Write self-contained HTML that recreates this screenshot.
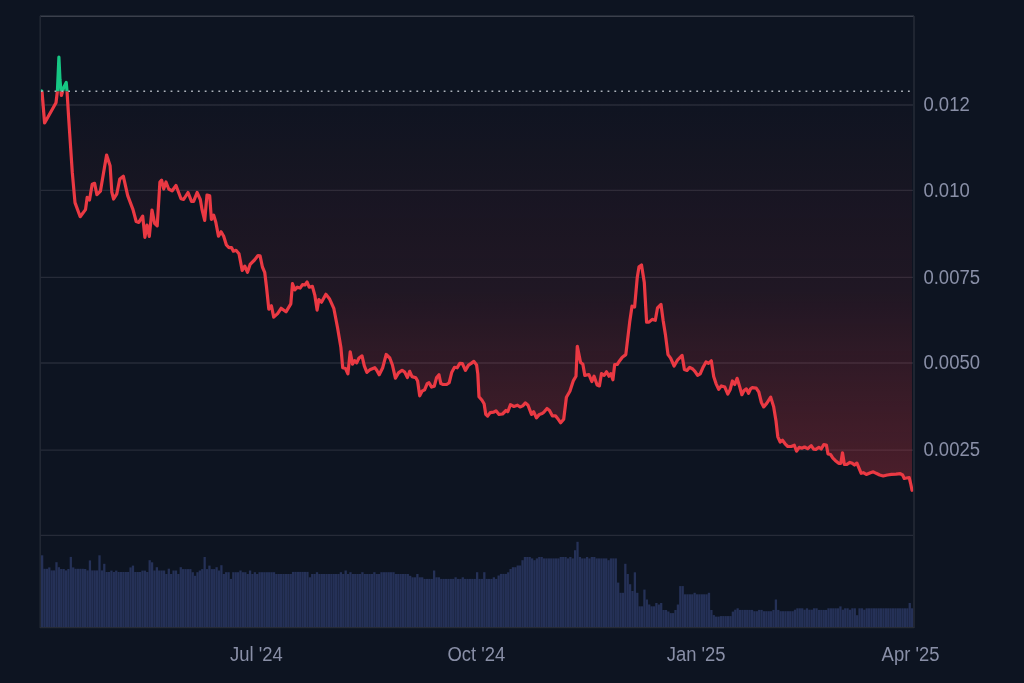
<!DOCTYPE html>
<html><head><meta charset="utf-8"><title>Chart</title>
<style>
html,body{margin:0;padding:0;background:#0d1421;width:1024px;height:683px;overflow:hidden}
svg{display:block;will-change:transform}
text{font-family:"Liberation Sans",sans-serif;font-size:19px;fill:#898fa7}
</style></head><body>
<svg width="1024" height="683" viewBox="0 0 1024 683">
<defs>
<linearGradient id="rg" x1="0" y1="91.3" x2="0" y2="536" gradientUnits="userSpaceOnUse">
<stop offset="0" stop-color="#ea3943" stop-opacity="0.01"/>
<stop offset="0.45" stop-color="#ea3943" stop-opacity="0.09"/>
<stop offset="1" stop-color="#ea3943" stop-opacity="0.34"/>
</linearGradient>
<linearGradient id="gg" x1="0" y1="16" x2="0" y2="91.3" gradientUnits="userSpaceOnUse">
<stop offset="0" stop-color="#16c784" stop-opacity="0.3"/>
<stop offset="1" stop-color="#16c784" stop-opacity="0.05"/>
</linearGradient>
<clipPath id="ab"><rect x="0" y="0" width="1024" height="91.3"/></clipPath>
<clipPath id="be"><rect x="0" y="91.3" width="1024" height="600"/></clipPath>
</defs>
<g stroke="#262b38" stroke-width="1.3"><line x1="40" x2="913" y1="450.1" y2="450.1"/><line x1="40" x2="913" y1="363.0" y2="363.0"/><line x1="40" x2="913" y1="277.4" y2="277.4"/><line x1="40" x2="913" y1="190.4" y2="190.4"/><line x1="40" x2="913" y1="105.0" y2="105.0"/><line x1="40" x2="913" y1="535.3" y2="535.3"/></g>
<g fill="#253157"><rect x="41.00" y="555.3" width="2.27" height="71.7"/><rect x="43.39" y="568.8" width="2.27" height="58.2"/><rect x="45.78" y="568.8" width="2.27" height="58.2"/><rect x="48.17" y="567.4" width="2.27" height="59.6"/><rect x="50.56" y="570.4" width="2.27" height="56.6"/><rect x="52.95" y="570.4" width="2.27" height="56.6"/><rect x="55.34" y="562.2" width="2.27" height="64.8"/><rect x="57.73" y="567.2" width="2.27" height="59.8"/><rect x="60.12" y="569.0" width="2.27" height="58.0"/><rect x="62.51" y="569.0" width="2.27" height="58.0"/><rect x="64.90" y="570.4" width="2.27" height="56.6"/><rect x="67.29" y="569.0" width="2.27" height="58.0"/><rect x="69.68" y="556.9" width="2.27" height="70.1"/><rect x="72.07" y="567.4" width="2.27" height="59.6"/><rect x="74.46" y="568.8" width="2.27" height="58.2"/><rect x="76.85" y="568.8" width="2.27" height="58.2"/><rect x="79.24" y="568.8" width="2.27" height="58.2"/><rect x="81.63" y="568.8" width="2.27" height="58.2"/><rect x="84.02" y="569.0" width="2.27" height="58.0"/><rect x="86.41" y="570.4" width="2.27" height="56.6"/><rect x="88.80" y="560.4" width="2.27" height="66.6"/><rect x="91.19" y="570.4" width="2.27" height="56.6"/><rect x="93.58" y="570.4" width="2.27" height="56.6"/><rect x="95.97" y="570.4" width="2.27" height="56.6"/><rect x="98.36" y="555.3" width="2.27" height="71.7"/><rect x="100.75" y="570.4" width="2.27" height="56.6"/><rect x="103.14" y="563.8" width="2.27" height="63.2"/><rect x="105.53" y="572.0" width="2.27" height="55.0"/><rect x="107.92" y="572.0" width="2.27" height="55.0"/><rect x="110.31" y="570.6" width="2.27" height="56.4"/><rect x="112.70" y="572.0" width="2.27" height="55.0"/><rect x="115.09" y="570.6" width="2.27" height="56.4"/><rect x="117.48" y="572.0" width="2.27" height="55.0"/><rect x="119.87" y="572.0" width="2.27" height="55.0"/><rect x="122.26" y="572.0" width="2.27" height="55.0"/><rect x="124.65" y="572.0" width="2.27" height="55.0"/><rect x="127.04" y="572.0" width="2.27" height="55.0"/><rect x="129.44" y="567.4" width="2.27" height="59.6"/><rect x="131.83" y="565.6" width="2.27" height="61.4"/><rect x="134.22" y="572.0" width="2.27" height="55.0"/><rect x="136.61" y="572.0" width="2.27" height="55.0"/><rect x="139.00" y="572.0" width="2.27" height="55.0"/><rect x="141.39" y="570.6" width="2.27" height="56.4"/><rect x="143.78" y="570.6" width="2.27" height="56.4"/><rect x="146.17" y="572.0" width="2.27" height="55.0"/><rect x="148.56" y="560.2" width="2.27" height="66.8"/><rect x="150.95" y="562.3" width="2.27" height="64.7"/><rect x="153.34" y="570.5" width="2.27" height="56.5"/><rect x="155.73" y="567.2" width="2.27" height="59.8"/><rect x="158.12" y="570.5" width="2.27" height="56.5"/><rect x="160.51" y="570.5" width="2.27" height="56.5"/><rect x="162.90" y="570.5" width="2.27" height="56.5"/><rect x="165.29" y="574.0" width="2.27" height="53.0"/><rect x="167.68" y="568.7" width="2.27" height="58.3"/><rect x="170.07" y="574.0" width="2.27" height="53.0"/><rect x="172.46" y="570.5" width="2.27" height="56.5"/><rect x="174.85" y="570.5" width="2.27" height="56.5"/><rect x="177.24" y="574.0" width="2.27" height="53.0"/><rect x="179.63" y="567.2" width="2.27" height="59.8"/><rect x="182.02" y="569.1" width="2.27" height="57.9"/><rect x="184.41" y="569.1" width="2.27" height="57.9"/><rect x="186.80" y="569.1" width="2.27" height="57.9"/><rect x="189.19" y="569.1" width="2.27" height="57.9"/><rect x="191.58" y="572.2" width="2.27" height="54.8"/><rect x="193.97" y="575.8" width="2.27" height="51.2"/><rect x="196.36" y="572.2" width="2.27" height="54.8"/><rect x="198.75" y="570.5" width="2.27" height="56.5"/><rect x="201.14" y="569.1" width="2.27" height="57.9"/><rect x="203.53" y="557.0" width="2.27" height="70.0"/><rect x="205.92" y="569.1" width="2.27" height="57.9"/><rect x="208.31" y="565.6" width="2.27" height="61.4"/><rect x="210.70" y="569.1" width="2.27" height="57.9"/><rect x="213.09" y="569.1" width="2.27" height="57.9"/><rect x="215.48" y="567.2" width="2.27" height="59.8"/><rect x="217.87" y="570.5" width="2.27" height="56.5"/><rect x="220.26" y="565.2" width="2.27" height="61.8"/><rect x="222.65" y="574.0" width="2.27" height="53.0"/><rect x="225.04" y="572.2" width="2.27" height="54.8"/><rect x="227.43" y="572.2" width="2.27" height="54.8"/><rect x="229.82" y="578.9" width="2.27" height="48.1"/><rect x="232.21" y="572.2" width="2.27" height="54.8"/><rect x="234.60" y="572.2" width="2.27" height="54.8"/><rect x="236.99" y="572.2" width="2.27" height="54.8"/><rect x="239.38" y="570.5" width="2.27" height="56.5"/><rect x="241.77" y="572.2" width="2.27" height="54.8"/><rect x="244.16" y="572.2" width="2.27" height="54.8"/><rect x="246.55" y="574.0" width="2.27" height="53.0"/><rect x="248.94" y="570.5" width="2.27" height="56.5"/><rect x="251.33" y="574.0" width="2.27" height="53.0"/><rect x="253.72" y="572.2" width="2.27" height="54.8"/><rect x="256.11" y="574.0" width="2.27" height="53.0"/><rect x="258.50" y="572.2" width="2.27" height="54.8"/><rect x="260.89" y="572.2" width="2.27" height="54.8"/><rect x="263.28" y="572.2" width="2.27" height="54.8"/><rect x="265.67" y="572.2" width="2.27" height="54.8"/><rect x="268.06" y="572.2" width="2.27" height="54.8"/><rect x="270.45" y="572.2" width="2.27" height="54.8"/><rect x="272.84" y="572.2" width="2.27" height="54.8"/><rect x="275.23" y="574.0" width="2.27" height="53.0"/><rect x="277.62" y="574.0" width="2.27" height="53.0"/><rect x="280.01" y="574.0" width="2.27" height="53.0"/><rect x="282.40" y="574.0" width="2.27" height="53.0"/><rect x="284.79" y="574.0" width="2.27" height="53.0"/><rect x="287.18" y="574.0" width="2.27" height="53.0"/><rect x="289.57" y="574.0" width="2.27" height="53.0"/><rect x="291.96" y="571.9" width="2.27" height="55.1"/><rect x="294.35" y="571.9" width="2.27" height="55.1"/><rect x="296.74" y="571.9" width="2.27" height="55.1"/><rect x="299.13" y="571.9" width="2.27" height="55.1"/><rect x="301.52" y="571.9" width="2.27" height="55.1"/><rect x="303.92" y="571.9" width="2.27" height="55.1"/><rect x="306.31" y="571.9" width="2.27" height="55.1"/><rect x="308.70" y="577.3" width="2.27" height="49.7"/><rect x="311.09" y="574.0" width="2.27" height="53.0"/><rect x="313.48" y="574.0" width="2.27" height="53.0"/><rect x="315.87" y="572.2" width="2.27" height="54.8"/><rect x="318.26" y="574.0" width="2.27" height="53.0"/><rect x="320.65" y="574.0" width="2.27" height="53.0"/><rect x="323.04" y="574.0" width="2.27" height="53.0"/><rect x="325.43" y="574.0" width="2.27" height="53.0"/><rect x="327.82" y="574.0" width="2.27" height="53.0"/><rect x="330.21" y="574.0" width="2.27" height="53.0"/><rect x="332.60" y="574.0" width="2.27" height="53.0"/><rect x="334.99" y="574.0" width="2.27" height="53.0"/><rect x="337.38" y="574.0" width="2.27" height="53.0"/><rect x="339.77" y="572.2" width="2.27" height="54.8"/><rect x="342.16" y="574.0" width="2.27" height="53.0"/><rect x="344.55" y="570.5" width="2.27" height="56.5"/><rect x="346.94" y="574.0" width="2.27" height="53.0"/><rect x="349.33" y="572.2" width="2.27" height="54.8"/><rect x="351.72" y="574.0" width="2.27" height="53.0"/><rect x="354.11" y="574.0" width="2.27" height="53.0"/><rect x="356.50" y="574.0" width="2.27" height="53.0"/><rect x="358.89" y="574.0" width="2.27" height="53.0"/><rect x="361.28" y="572.2" width="2.27" height="54.8"/><rect x="363.67" y="574.0" width="2.27" height="53.0"/><rect x="366.06" y="574.0" width="2.27" height="53.0"/><rect x="368.45" y="574.0" width="2.27" height="53.0"/><rect x="370.84" y="574.0" width="2.27" height="53.0"/><rect x="373.23" y="572.2" width="2.27" height="54.8"/><rect x="375.62" y="574.0" width="2.27" height="53.0"/><rect x="378.01" y="574.0" width="2.27" height="53.0"/><rect x="380.40" y="572.2" width="2.27" height="54.8"/><rect x="382.79" y="572.2" width="2.27" height="54.8"/><rect x="385.18" y="572.2" width="2.27" height="54.8"/><rect x="387.57" y="572.2" width="2.27" height="54.8"/><rect x="389.96" y="572.2" width="2.27" height="54.8"/><rect x="392.35" y="572.2" width="2.27" height="54.8"/><rect x="394.74" y="574.0" width="2.27" height="53.0"/><rect x="397.13" y="574.0" width="2.27" height="53.0"/><rect x="399.52" y="574.0" width="2.27" height="53.0"/><rect x="401.91" y="574.0" width="2.27" height="53.0"/><rect x="404.30" y="574.0" width="2.27" height="53.0"/><rect x="406.69" y="574.0" width="2.27" height="53.0"/><rect x="409.08" y="575.8" width="2.27" height="51.2"/><rect x="411.47" y="577.3" width="2.27" height="49.7"/><rect x="413.86" y="577.3" width="2.27" height="49.7"/><rect x="416.25" y="574.0" width="2.27" height="53.0"/><rect x="418.64" y="577.3" width="2.27" height="49.7"/><rect x="421.03" y="577.3" width="2.27" height="49.7"/><rect x="423.42" y="578.9" width="2.27" height="48.1"/><rect x="425.81" y="578.9" width="2.27" height="48.1"/><rect x="428.20" y="578.9" width="2.27" height="48.1"/><rect x="430.59" y="578.9" width="2.27" height="48.1"/><rect x="432.98" y="570.5" width="2.27" height="56.5"/><rect x="435.37" y="577.3" width="2.27" height="49.7"/><rect x="437.76" y="577.3" width="2.27" height="49.7"/><rect x="440.15" y="578.9" width="2.27" height="48.1"/><rect x="442.54" y="578.9" width="2.27" height="48.1"/><rect x="444.93" y="578.9" width="2.27" height="48.1"/><rect x="447.32" y="578.9" width="2.27" height="48.1"/><rect x="449.71" y="578.9" width="2.27" height="48.1"/><rect x="452.10" y="578.9" width="2.27" height="48.1"/><rect x="454.49" y="577.3" width="2.27" height="49.7"/><rect x="456.88" y="578.9" width="2.27" height="48.1"/><rect x="459.27" y="578.9" width="2.27" height="48.1"/><rect x="461.66" y="577.3" width="2.27" height="49.7"/><rect x="464.05" y="578.9" width="2.27" height="48.1"/><rect x="466.44" y="578.9" width="2.27" height="48.1"/><rect x="468.83" y="578.9" width="2.27" height="48.1"/><rect x="471.22" y="578.9" width="2.27" height="48.1"/><rect x="473.61" y="578.9" width="2.27" height="48.1"/><rect x="476.00" y="572.2" width="2.27" height="54.8"/><rect x="478.40" y="578.9" width="2.27" height="48.1"/><rect x="480.79" y="578.9" width="2.27" height="48.1"/><rect x="483.18" y="572.2" width="2.27" height="54.8"/><rect x="485.57" y="578.9" width="2.27" height="48.1"/><rect x="487.96" y="578.9" width="2.27" height="48.1"/><rect x="490.35" y="578.9" width="2.27" height="48.1"/><rect x="492.74" y="577.3" width="2.27" height="49.7"/><rect x="495.13" y="578.9" width="2.27" height="48.1"/><rect x="497.52" y="575.5" width="2.27" height="51.5"/><rect x="499.91" y="573.9" width="2.27" height="53.1"/><rect x="502.30" y="573.9" width="2.27" height="53.1"/><rect x="504.69" y="573.9" width="2.27" height="53.1"/><rect x="507.08" y="572.3" width="2.27" height="54.7"/><rect x="509.47" y="569.0" width="2.27" height="58.0"/><rect x="511.86" y="567.2" width="2.27" height="59.8"/><rect x="514.25" y="567.2" width="2.27" height="59.8"/><rect x="516.64" y="565.5" width="2.27" height="61.5"/><rect x="519.03" y="565.5" width="2.27" height="61.5"/><rect x="521.42" y="560.2" width="2.27" height="66.8"/><rect x="523.81" y="557.0" width="2.27" height="70.0"/><rect x="526.20" y="557.0" width="2.27" height="70.0"/><rect x="528.59" y="557.0" width="2.27" height="70.0"/><rect x="530.98" y="558.4" width="2.27" height="68.6"/><rect x="533.37" y="560.2" width="2.27" height="66.8"/><rect x="535.76" y="558.4" width="2.27" height="68.6"/><rect x="538.15" y="557.0" width="2.27" height="70.0"/><rect x="540.54" y="557.0" width="2.27" height="70.0"/><rect x="542.93" y="558.4" width="2.27" height="68.6"/><rect x="545.32" y="558.4" width="2.27" height="68.6"/><rect x="547.71" y="558.4" width="2.27" height="68.6"/><rect x="550.10" y="558.4" width="2.27" height="68.6"/><rect x="552.49" y="558.4" width="2.27" height="68.6"/><rect x="554.88" y="558.4" width="2.27" height="68.6"/><rect x="557.27" y="558.4" width="2.27" height="68.6"/><rect x="559.66" y="557.0" width="2.27" height="70.0"/><rect x="562.05" y="557.0" width="2.27" height="70.0"/><rect x="564.44" y="557.0" width="2.27" height="70.0"/><rect x="566.83" y="558.4" width="2.27" height="68.6"/><rect x="569.22" y="557.0" width="2.27" height="70.0"/><rect x="571.61" y="558.4" width="2.27" height="68.6"/><rect x="574.00" y="550.2" width="2.27" height="76.8"/><rect x="576.39" y="541.8" width="2.27" height="85.2"/><rect x="578.78" y="557.0" width="2.27" height="70.0"/><rect x="581.17" y="558.4" width="2.27" height="68.6"/><rect x="583.56" y="558.4" width="2.27" height="68.6"/><rect x="585.95" y="557.0" width="2.27" height="70.0"/><rect x="588.34" y="558.4" width="2.27" height="68.6"/><rect x="590.73" y="557.0" width="2.27" height="70.0"/><rect x="593.12" y="557.0" width="2.27" height="70.0"/><rect x="595.51" y="558.4" width="2.27" height="68.6"/><rect x="597.90" y="558.4" width="2.27" height="68.6"/><rect x="600.29" y="558.4" width="2.27" height="68.6"/><rect x="602.68" y="558.4" width="2.27" height="68.6"/><rect x="605.07" y="558.4" width="2.27" height="68.6"/><rect x="607.46" y="560.2" width="2.27" height="66.8"/><rect x="609.85" y="558.4" width="2.27" height="68.6"/><rect x="612.24" y="558.4" width="2.27" height="68.6"/><rect x="614.63" y="558.4" width="2.27" height="68.6"/><rect x="617.02" y="582.6" width="2.27" height="44.4"/><rect x="619.41" y="592.8" width="2.27" height="34.2"/><rect x="621.80" y="592.8" width="2.27" height="34.2"/><rect x="624.19" y="563.8" width="2.27" height="63.2"/><rect x="626.58" y="574.0" width="2.27" height="53.0"/><rect x="628.97" y="584.2" width="2.27" height="42.8"/><rect x="631.36" y="591.0" width="2.27" height="36.0"/><rect x="633.75" y="572.3" width="2.27" height="54.7"/><rect x="636.14" y="592.8" width="2.27" height="34.2"/><rect x="638.53" y="606.3" width="2.27" height="20.7"/><rect x="640.92" y="606.3" width="2.27" height="20.7"/><rect x="643.31" y="589.6" width="2.27" height="37.4"/><rect x="645.70" y="599.5" width="2.27" height="27.5"/><rect x="648.09" y="604.5" width="2.27" height="22.5"/><rect x="650.48" y="606.3" width="2.27" height="20.7"/><rect x="652.88" y="606.3" width="2.27" height="20.7"/><rect x="655.27" y="603.0" width="2.27" height="24.0"/><rect x="657.66" y="604.5" width="2.27" height="22.5"/><rect x="660.05" y="603.0" width="2.27" height="24.0"/><rect x="662.44" y="610.0" width="2.27" height="17.0"/><rect x="664.83" y="610.0" width="2.27" height="17.0"/><rect x="667.22" y="611.5" width="2.27" height="15.5"/><rect x="669.61" y="613.1" width="2.27" height="13.9"/><rect x="672.00" y="613.1" width="2.27" height="13.9"/><rect x="674.39" y="610.0" width="2.27" height="17.0"/><rect x="676.78" y="604.5" width="2.27" height="22.5"/><rect x="679.17" y="586.1" width="2.27" height="40.9"/><rect x="681.56" y="586.1" width="2.27" height="40.9"/><rect x="683.95" y="594.3" width="2.27" height="32.7"/><rect x="686.34" y="594.3" width="2.27" height="32.7"/><rect x="688.73" y="594.3" width="2.27" height="32.7"/><rect x="691.12" y="594.3" width="2.27" height="32.7"/><rect x="693.51" y="592.8" width="2.27" height="34.2"/><rect x="695.90" y="594.3" width="2.27" height="32.7"/><rect x="698.29" y="594.3" width="2.27" height="32.7"/><rect x="700.68" y="594.3" width="2.27" height="32.7"/><rect x="703.07" y="594.3" width="2.27" height="32.7"/><rect x="705.46" y="594.3" width="2.27" height="32.7"/><rect x="707.85" y="592.8" width="2.27" height="34.2"/><rect x="710.24" y="610.0" width="2.27" height="17.0"/><rect x="712.63" y="615.1" width="2.27" height="11.9"/><rect x="715.02" y="616.6" width="2.27" height="10.4"/><rect x="717.41" y="616.6" width="2.27" height="10.4"/><rect x="719.80" y="616.1" width="2.27" height="10.9"/><rect x="722.19" y="616.1" width="2.27" height="10.9"/><rect x="724.58" y="616.1" width="2.27" height="10.9"/><rect x="726.97" y="616.1" width="2.27" height="10.9"/><rect x="729.36" y="616.1" width="2.27" height="10.9"/><rect x="731.75" y="611.6" width="2.27" height="15.4"/><rect x="734.14" y="609.7" width="2.27" height="17.3"/><rect x="736.53" y="608.3" width="2.27" height="18.7"/><rect x="738.92" y="609.9" width="2.27" height="17.1"/><rect x="741.31" y="609.9" width="2.27" height="17.1"/><rect x="743.70" y="609.9" width="2.27" height="17.1"/><rect x="746.09" y="609.9" width="2.27" height="17.1"/><rect x="748.48" y="609.9" width="2.27" height="17.1"/><rect x="750.87" y="609.9" width="2.27" height="17.1"/><rect x="753.26" y="611.2" width="2.27" height="15.8"/><rect x="755.65" y="611.2" width="2.27" height="15.8"/><rect x="758.04" y="609.9" width="2.27" height="17.1"/><rect x="760.43" y="609.9" width="2.27" height="17.1"/><rect x="762.82" y="611.2" width="2.27" height="15.8"/><rect x="765.21" y="611.2" width="2.27" height="15.8"/><rect x="767.60" y="611.2" width="2.27" height="15.8"/><rect x="769.99" y="611.2" width="2.27" height="15.8"/><rect x="772.38" y="609.9" width="2.27" height="17.1"/><rect x="774.77" y="599.5" width="2.27" height="27.5"/><rect x="777.16" y="609.9" width="2.27" height="17.1"/><rect x="779.55" y="611.2" width="2.27" height="15.8"/><rect x="781.94" y="611.2" width="2.27" height="15.8"/><rect x="784.33" y="611.2" width="2.27" height="15.8"/><rect x="786.72" y="611.2" width="2.27" height="15.8"/><rect x="789.11" y="611.2" width="2.27" height="15.8"/><rect x="791.50" y="611.2" width="2.27" height="15.8"/><rect x="793.89" y="609.7" width="2.27" height="17.3"/><rect x="796.28" y="608.3" width="2.27" height="18.7"/><rect x="798.67" y="608.3" width="2.27" height="18.7"/><rect x="801.06" y="608.3" width="2.27" height="18.7"/><rect x="803.45" y="609.7" width="2.27" height="17.3"/><rect x="805.84" y="608.3" width="2.27" height="18.7"/><rect x="808.23" y="609.7" width="2.27" height="17.3"/><rect x="810.62" y="609.7" width="2.27" height="17.3"/><rect x="813.01" y="608.3" width="2.27" height="18.7"/><rect x="815.40" y="608.3" width="2.27" height="18.7"/><rect x="817.79" y="609.9" width="2.27" height="17.1"/><rect x="820.18" y="609.9" width="2.27" height="17.1"/><rect x="822.57" y="609.9" width="2.27" height="17.1"/><rect x="824.96" y="609.9" width="2.27" height="17.1"/><rect x="827.36" y="608.3" width="2.27" height="18.7"/><rect x="829.75" y="608.3" width="2.27" height="18.7"/><rect x="832.14" y="608.3" width="2.27" height="18.7"/><rect x="834.53" y="608.3" width="2.27" height="18.7"/><rect x="836.92" y="608.3" width="2.27" height="18.7"/><rect x="839.31" y="606.4" width="2.27" height="20.6"/><rect x="841.70" y="609.7" width="2.27" height="17.3"/><rect x="844.09" y="608.3" width="2.27" height="18.7"/><rect x="846.48" y="608.3" width="2.27" height="18.7"/><rect x="848.87" y="609.7" width="2.27" height="17.3"/><rect x="851.26" y="608.3" width="2.27" height="18.7"/><rect x="853.65" y="608.3" width="2.27" height="18.7"/><rect x="856.04" y="615.2" width="2.27" height="11.8"/><rect x="858.43" y="608.3" width="2.27" height="18.7"/><rect x="860.82" y="608.3" width="2.27" height="18.7"/><rect x="863.21" y="609.7" width="2.27" height="17.3"/><rect x="865.60" y="608.3" width="2.27" height="18.7"/><rect x="867.99" y="608.3" width="2.27" height="18.7"/><rect x="870.38" y="608.3" width="2.27" height="18.7"/><rect x="872.77" y="608.3" width="2.27" height="18.7"/><rect x="875.16" y="608.3" width="2.27" height="18.7"/><rect x="877.55" y="608.3" width="2.27" height="18.7"/><rect x="879.94" y="608.3" width="2.27" height="18.7"/><rect x="882.33" y="608.3" width="2.27" height="18.7"/><rect x="884.72" y="608.3" width="2.27" height="18.7"/><rect x="887.11" y="608.3" width="2.27" height="18.7"/><rect x="889.50" y="608.3" width="2.27" height="18.7"/><rect x="891.89" y="608.3" width="2.27" height="18.7"/><rect x="894.28" y="608.3" width="2.27" height="18.7"/><rect x="896.67" y="608.3" width="2.27" height="18.7"/><rect x="899.06" y="608.3" width="2.27" height="18.7"/><rect x="901.45" y="608.3" width="2.27" height="18.7"/><rect x="903.84" y="608.3" width="2.27" height="18.7"/><rect x="906.23" y="608.3" width="2.27" height="18.7"/><rect x="908.62" y="603.0" width="2.27" height="24.0"/><rect x="911.01" y="608.3" width="2.27" height="18.7"/></g>
<polygon points="41.5,91.0 42.0,91.5 44.6,123.0 56.0,102.7 57.4,91.0 58.9,57.0 60.0,80.0 61.4,95.5 63.5,88.0 66.2,82.5 67.0,91.0 68.8,120.0 72.3,172.7 75.0,202.6 80.2,216.7 85.5,209.6 87.2,197.3 89.5,200.0 92.2,184.2 94.6,183.3 96.9,194.7 100.4,191.2 106.6,155.1 110.1,165.7 111.8,192.0 113.6,199.0 116.8,193.8 119.8,178.9 123.3,176.2 127.7,195.6 133.0,209.6 136.2,221.5 138.8,222.4 142.7,216.2 144.9,237.3 147.0,225.0 149.3,236.4 152.0,210.0 154.6,223.3 157.2,225.9 159.9,182.0 161.6,180.2 163.7,189.0 166.0,182.0 168.7,189.0 172.2,190.8 176.0,185.5 181.0,198.7 183.6,199.5 188.0,192.5 191.5,201.3 193.6,201.3 197.1,192.5 200.3,199.5 202.1,209.9 204.7,220.4 207.0,195.0 209.7,195.8 211.4,219.5 213.7,215.1 215.8,222.2 218.5,236.2 221.1,231.8 223.7,236.2 226.4,245.0 229.0,247.7 231.6,247.7 233.4,251.2 236.0,250.3 239.0,253.8 242.2,270.5 244.8,266.1 247.5,272.3 250.1,264.4 254.5,260.0 258.0,255.6 260.1,255.9 262.4,267.0 264.7,272.3 266.5,287.0 268.8,309.2 271.4,305.7 273.7,317.1 277.6,313.6 281.1,308.3 286.0,311.8 290.8,303.9 292.5,283.7 294.8,289.9 297.3,287.2 300.1,288.1 302.5,284.6 305.0,285.0 307.1,282.0 309.2,287.2 312.4,286.4 314.8,295.1 317.1,310.1 318.9,299.5 321.5,302.2 325.9,294.3 329.4,298.7 333.8,308.3 337.6,328.0 340.9,347.5 342.7,367.7 345.5,368.5 347.9,373.8 350.2,351.8 352.5,364.1 354.6,360.6 356.7,362.9 359.0,358.0 362.0,355.9 364.3,365.9 366.9,372.4 370.4,369.4 374.8,367.7 376.6,370.0 379.2,374.7 382.7,367.7 386.2,354.5 389.8,358.0 392.4,365.0 395.4,378.2 398.5,372.9 402.1,370.3 404.7,372.1 407.4,377.5 409.7,371.3 412.0,376.6 415.8,377.8 417.6,381.0 419.7,395.9 422.0,391.2 424.6,389.8 427.2,383.6 429.0,382.7 431.6,387.1 434.3,386.2 436.6,377.5 439.0,374.8 440.8,383.6 443.1,384.5 446.6,384.5 449.2,382.7 451.8,372.2 454.5,367.3 457.1,367.8 459.8,363.4 462.4,363.7 465.4,370.4 468.5,365.1 471.2,363.4 473.9,361.4 476.6,365.0 477.8,373.9 479.0,396.8 482.0,400.3 484.1,403.8 485.8,414.4 487.6,416.1 490.2,412.6 493.7,412.2 496.0,410.8 499.0,414.4 502.5,414.0 506.0,410.5 507.8,411.7 510.4,404.7 513.9,406.5 517.5,405.2 520.1,407.0 522.7,405.9 525.4,402.9 528.0,405.2 531.5,414.4 533.6,411.7 536.4,417.9 539.4,414.4 542.1,413.5 543.8,412.2 547.0,408.5 549.5,410.5 552.3,415.8 555.5,415.8 557.6,418.4 560.7,422.8 563.7,419.3 566.4,397.3 569.9,391.2 573.4,380.6 576.0,376.2 577.3,346.4 580.6,362.6 582.8,364.0 584.8,375.4 588.9,374.5 591.8,381.5 594.1,376.2 597.1,385.0 599.4,385.9 601.5,373.6 604.2,375.4 606.5,371.8 609.0,376.2 610.8,373.6 612.9,379.8 614.7,364.5 617.2,364.5 619.7,360.7 622.3,357.2 625.8,354.6 627.6,339.6 629.7,322.1 632.0,306.2 634.6,307.1 637.2,278.1 639.0,266.8 641.5,265.0 644.3,282.5 646.6,322.1 649.0,322.1 652.2,319.4 655.3,320.3 657.5,308.0 661.0,304.5 663.1,320.3 665.4,334.4 668.0,354.6 670.6,358.1 674.1,366.0 677.7,359.8 682.1,355.4 684.4,369.5 687.0,370.4 689.7,367.3 692.7,369.0 694.9,371.3 697.6,375.3 700.2,373.9 702.8,367.8 706.0,362.0 708.5,363.4 711.3,360.8 713.7,376.6 716.0,383.6 718.7,389.4 721.3,385.9 724.8,387.1 727.8,394.1 730.1,389.8 732.4,381.0 734.8,384.5 737.1,378.3 739.8,387.1 741.9,394.7 744.1,390.6 746.4,388.9 748.5,393.3 750.5,389.0 752.1,387.6 756.2,388.1 758.8,392.0 761.4,402.5 763.7,406.9 766.7,403.4 770.7,397.2 773.7,406.9 776.0,421.0 777.8,436.8 780.2,442.1 782.5,440.3 785.1,443.8 787.8,446.5 791.3,446.5 794.3,445.2 796.6,451.2 799.2,447.3 801.8,448.2 804.5,447.0 807.6,448.7 811.2,445.6 813.6,449.1 815.9,449.4 818.9,447.3 821.2,449.0 823.8,444.7 826.4,445.0 828.0,454.0 830.5,454.5 832.9,458.1 835.2,460.4 838.7,463.3 840.8,463.3 842.5,452.8 844.4,464.5 846.9,464.3 849.9,462.4 852.2,463.3 854.5,465.1 856.9,463.1 859.2,468.6 861.2,473.3 863.3,472.7 866.3,474.4 870.4,472.7 873.3,471.8 876.2,473.3 879.7,475.0 883.2,476.0 887.3,475.0 891.4,474.4 896.1,474.1 900.2,473.6 902.6,475.0 904.3,478.5 906.6,478.0 909.2,477.6 910.7,483.8 912.0,490.3 912.0,91.3 41.5,91.3" fill="url(#rg)" clip-path="url(#be)"/>
<polygon points="41.5,91.0 42.0,91.5 44.6,123.0 56.0,102.7 57.4,91.0 58.9,57.0 60.0,80.0 61.4,95.5 63.5,88.0 66.2,82.5 67.0,91.0 68.8,120.0 72.3,172.7 75.0,202.6 80.2,216.7 85.5,209.6 87.2,197.3 89.5,200.0 92.2,184.2 94.6,183.3 96.9,194.7 100.4,191.2 106.6,155.1 110.1,165.7 111.8,192.0 113.6,199.0 116.8,193.8 119.8,178.9 123.3,176.2 127.7,195.6 133.0,209.6 136.2,221.5 138.8,222.4 142.7,216.2 144.9,237.3 147.0,225.0 149.3,236.4 152.0,210.0 154.6,223.3 157.2,225.9 159.9,182.0 161.6,180.2 163.7,189.0 166.0,182.0 168.7,189.0 172.2,190.8 176.0,185.5 181.0,198.7 183.6,199.5 188.0,192.5 191.5,201.3 193.6,201.3 197.1,192.5 200.3,199.5 202.1,209.9 204.7,220.4 207.0,195.0 209.7,195.8 211.4,219.5 213.7,215.1 215.8,222.2 218.5,236.2 221.1,231.8 223.7,236.2 226.4,245.0 229.0,247.7 231.6,247.7 233.4,251.2 236.0,250.3 239.0,253.8 242.2,270.5 244.8,266.1 247.5,272.3 250.1,264.4 254.5,260.0 258.0,255.6 260.1,255.9 262.4,267.0 264.7,272.3 266.5,287.0 268.8,309.2 271.4,305.7 273.7,317.1 277.6,313.6 281.1,308.3 286.0,311.8 290.8,303.9 292.5,283.7 294.8,289.9 297.3,287.2 300.1,288.1 302.5,284.6 305.0,285.0 307.1,282.0 309.2,287.2 312.4,286.4 314.8,295.1 317.1,310.1 318.9,299.5 321.5,302.2 325.9,294.3 329.4,298.7 333.8,308.3 337.6,328.0 340.9,347.5 342.7,367.7 345.5,368.5 347.9,373.8 350.2,351.8 352.5,364.1 354.6,360.6 356.7,362.9 359.0,358.0 362.0,355.9 364.3,365.9 366.9,372.4 370.4,369.4 374.8,367.7 376.6,370.0 379.2,374.7 382.7,367.7 386.2,354.5 389.8,358.0 392.4,365.0 395.4,378.2 398.5,372.9 402.1,370.3 404.7,372.1 407.4,377.5 409.7,371.3 412.0,376.6 415.8,377.8 417.6,381.0 419.7,395.9 422.0,391.2 424.6,389.8 427.2,383.6 429.0,382.7 431.6,387.1 434.3,386.2 436.6,377.5 439.0,374.8 440.8,383.6 443.1,384.5 446.6,384.5 449.2,382.7 451.8,372.2 454.5,367.3 457.1,367.8 459.8,363.4 462.4,363.7 465.4,370.4 468.5,365.1 471.2,363.4 473.9,361.4 476.6,365.0 477.8,373.9 479.0,396.8 482.0,400.3 484.1,403.8 485.8,414.4 487.6,416.1 490.2,412.6 493.7,412.2 496.0,410.8 499.0,414.4 502.5,414.0 506.0,410.5 507.8,411.7 510.4,404.7 513.9,406.5 517.5,405.2 520.1,407.0 522.7,405.9 525.4,402.9 528.0,405.2 531.5,414.4 533.6,411.7 536.4,417.9 539.4,414.4 542.1,413.5 543.8,412.2 547.0,408.5 549.5,410.5 552.3,415.8 555.5,415.8 557.6,418.4 560.7,422.8 563.7,419.3 566.4,397.3 569.9,391.2 573.4,380.6 576.0,376.2 577.3,346.4 580.6,362.6 582.8,364.0 584.8,375.4 588.9,374.5 591.8,381.5 594.1,376.2 597.1,385.0 599.4,385.9 601.5,373.6 604.2,375.4 606.5,371.8 609.0,376.2 610.8,373.6 612.9,379.8 614.7,364.5 617.2,364.5 619.7,360.7 622.3,357.2 625.8,354.6 627.6,339.6 629.7,322.1 632.0,306.2 634.6,307.1 637.2,278.1 639.0,266.8 641.5,265.0 644.3,282.5 646.6,322.1 649.0,322.1 652.2,319.4 655.3,320.3 657.5,308.0 661.0,304.5 663.1,320.3 665.4,334.4 668.0,354.6 670.6,358.1 674.1,366.0 677.7,359.8 682.1,355.4 684.4,369.5 687.0,370.4 689.7,367.3 692.7,369.0 694.9,371.3 697.6,375.3 700.2,373.9 702.8,367.8 706.0,362.0 708.5,363.4 711.3,360.8 713.7,376.6 716.0,383.6 718.7,389.4 721.3,385.9 724.8,387.1 727.8,394.1 730.1,389.8 732.4,381.0 734.8,384.5 737.1,378.3 739.8,387.1 741.9,394.7 744.1,390.6 746.4,388.9 748.5,393.3 750.5,389.0 752.1,387.6 756.2,388.1 758.8,392.0 761.4,402.5 763.7,406.9 766.7,403.4 770.7,397.2 773.7,406.9 776.0,421.0 777.8,436.8 780.2,442.1 782.5,440.3 785.1,443.8 787.8,446.5 791.3,446.5 794.3,445.2 796.6,451.2 799.2,447.3 801.8,448.2 804.5,447.0 807.6,448.7 811.2,445.6 813.6,449.1 815.9,449.4 818.9,447.3 821.2,449.0 823.8,444.7 826.4,445.0 828.0,454.0 830.5,454.5 832.9,458.1 835.2,460.4 838.7,463.3 840.8,463.3 842.5,452.8 844.4,464.5 846.9,464.3 849.9,462.4 852.2,463.3 854.5,465.1 856.9,463.1 859.2,468.6 861.2,473.3 863.3,472.7 866.3,474.4 870.4,472.7 873.3,471.8 876.2,473.3 879.7,475.0 883.2,476.0 887.3,475.0 891.4,474.4 896.1,474.1 900.2,473.6 902.6,475.0 904.3,478.5 906.6,478.0 909.2,477.6 910.7,483.8 912.0,490.3 912.0,91.3 41.5,91.3" fill="url(#gg)" clip-path="url(#ab)"/>
<g fill="none" stroke-width="3.2" stroke-linejoin="round" stroke-linecap="round">
<polyline points="41.5,91.0 42.0,91.5 44.6,123.0 56.0,102.7 57.4,91.0 58.9,57.0 60.0,80.0 61.4,95.5 63.5,88.0 66.2,82.5 67.0,91.0 68.8,120.0 72.3,172.7 75.0,202.6 80.2,216.7 85.5,209.6 87.2,197.3 89.5,200.0 92.2,184.2 94.6,183.3 96.9,194.7 100.4,191.2 106.6,155.1 110.1,165.7 111.8,192.0 113.6,199.0 116.8,193.8 119.8,178.9 123.3,176.2 127.7,195.6 133.0,209.6 136.2,221.5 138.8,222.4 142.7,216.2 144.9,237.3 147.0,225.0 149.3,236.4 152.0,210.0 154.6,223.3 157.2,225.9 159.9,182.0 161.6,180.2 163.7,189.0 166.0,182.0 168.7,189.0 172.2,190.8 176.0,185.5 181.0,198.7 183.6,199.5 188.0,192.5 191.5,201.3 193.6,201.3 197.1,192.5 200.3,199.5 202.1,209.9 204.7,220.4 207.0,195.0 209.7,195.8 211.4,219.5 213.7,215.1 215.8,222.2 218.5,236.2 221.1,231.8 223.7,236.2 226.4,245.0 229.0,247.7 231.6,247.7 233.4,251.2 236.0,250.3 239.0,253.8 242.2,270.5 244.8,266.1 247.5,272.3 250.1,264.4 254.5,260.0 258.0,255.6 260.1,255.9 262.4,267.0 264.7,272.3 266.5,287.0 268.8,309.2 271.4,305.7 273.7,317.1 277.6,313.6 281.1,308.3 286.0,311.8 290.8,303.9 292.5,283.7 294.8,289.9 297.3,287.2 300.1,288.1 302.5,284.6 305.0,285.0 307.1,282.0 309.2,287.2 312.4,286.4 314.8,295.1 317.1,310.1 318.9,299.5 321.5,302.2 325.9,294.3 329.4,298.7 333.8,308.3 337.6,328.0 340.9,347.5 342.7,367.7 345.5,368.5 347.9,373.8 350.2,351.8 352.5,364.1 354.6,360.6 356.7,362.9 359.0,358.0 362.0,355.9 364.3,365.9 366.9,372.4 370.4,369.4 374.8,367.7 376.6,370.0 379.2,374.7 382.7,367.7 386.2,354.5 389.8,358.0 392.4,365.0 395.4,378.2 398.5,372.9 402.1,370.3 404.7,372.1 407.4,377.5 409.7,371.3 412.0,376.6 415.8,377.8 417.6,381.0 419.7,395.9 422.0,391.2 424.6,389.8 427.2,383.6 429.0,382.7 431.6,387.1 434.3,386.2 436.6,377.5 439.0,374.8 440.8,383.6 443.1,384.5 446.6,384.5 449.2,382.7 451.8,372.2 454.5,367.3 457.1,367.8 459.8,363.4 462.4,363.7 465.4,370.4 468.5,365.1 471.2,363.4 473.9,361.4 476.6,365.0 477.8,373.9 479.0,396.8 482.0,400.3 484.1,403.8 485.8,414.4 487.6,416.1 490.2,412.6 493.7,412.2 496.0,410.8 499.0,414.4 502.5,414.0 506.0,410.5 507.8,411.7 510.4,404.7 513.9,406.5 517.5,405.2 520.1,407.0 522.7,405.9 525.4,402.9 528.0,405.2 531.5,414.4 533.6,411.7 536.4,417.9 539.4,414.4 542.1,413.5 543.8,412.2 547.0,408.5 549.5,410.5 552.3,415.8 555.5,415.8 557.6,418.4 560.7,422.8 563.7,419.3 566.4,397.3 569.9,391.2 573.4,380.6 576.0,376.2 577.3,346.4 580.6,362.6 582.8,364.0 584.8,375.4 588.9,374.5 591.8,381.5 594.1,376.2 597.1,385.0 599.4,385.9 601.5,373.6 604.2,375.4 606.5,371.8 609.0,376.2 610.8,373.6 612.9,379.8 614.7,364.5 617.2,364.5 619.7,360.7 622.3,357.2 625.8,354.6 627.6,339.6 629.7,322.1 632.0,306.2 634.6,307.1 637.2,278.1 639.0,266.8 641.5,265.0 644.3,282.5 646.6,322.1 649.0,322.1 652.2,319.4 655.3,320.3 657.5,308.0 661.0,304.5 663.1,320.3 665.4,334.4 668.0,354.6 670.6,358.1 674.1,366.0 677.7,359.8 682.1,355.4 684.4,369.5 687.0,370.4 689.7,367.3 692.7,369.0 694.9,371.3 697.6,375.3 700.2,373.9 702.8,367.8 706.0,362.0 708.5,363.4 711.3,360.8 713.7,376.6 716.0,383.6 718.7,389.4 721.3,385.9 724.8,387.1 727.8,394.1 730.1,389.8 732.4,381.0 734.8,384.5 737.1,378.3 739.8,387.1 741.9,394.7 744.1,390.6 746.4,388.9 748.5,393.3 750.5,389.0 752.1,387.6 756.2,388.1 758.8,392.0 761.4,402.5 763.7,406.9 766.7,403.4 770.7,397.2 773.7,406.9 776.0,421.0 777.8,436.8 780.2,442.1 782.5,440.3 785.1,443.8 787.8,446.5 791.3,446.5 794.3,445.2 796.6,451.2 799.2,447.3 801.8,448.2 804.5,447.0 807.6,448.7 811.2,445.6 813.6,449.1 815.9,449.4 818.9,447.3 821.2,449.0 823.8,444.7 826.4,445.0 828.0,454.0 830.5,454.5 832.9,458.1 835.2,460.4 838.7,463.3 840.8,463.3 842.5,452.8 844.4,464.5 846.9,464.3 849.9,462.4 852.2,463.3 854.5,465.1 856.9,463.1 859.2,468.6 861.2,473.3 863.3,472.7 866.3,474.4 870.4,472.7 873.3,471.8 876.2,473.3 879.7,475.0 883.2,476.0 887.3,475.0 891.4,474.4 896.1,474.1 900.2,473.6 902.6,475.0 904.3,478.5 906.6,478.0 909.2,477.6 910.7,483.8 912.0,490.3" stroke="#ea3943" clip-path="url(#be)"/>
<polyline points="41.5,91.0 42.0,91.5 44.6,123.0 56.0,102.7 57.4,91.0 58.9,57.0 60.0,80.0 61.4,95.5 63.5,88.0 66.2,82.5 67.0,91.0 68.8,120.0 72.3,172.7 75.0,202.6 80.2,216.7 85.5,209.6 87.2,197.3 89.5,200.0 92.2,184.2 94.6,183.3 96.9,194.7 100.4,191.2 106.6,155.1 110.1,165.7 111.8,192.0 113.6,199.0 116.8,193.8 119.8,178.9 123.3,176.2 127.7,195.6 133.0,209.6 136.2,221.5 138.8,222.4 142.7,216.2 144.9,237.3 147.0,225.0 149.3,236.4 152.0,210.0 154.6,223.3 157.2,225.9 159.9,182.0 161.6,180.2 163.7,189.0 166.0,182.0 168.7,189.0 172.2,190.8 176.0,185.5 181.0,198.7 183.6,199.5 188.0,192.5 191.5,201.3 193.6,201.3 197.1,192.5 200.3,199.5 202.1,209.9 204.7,220.4 207.0,195.0 209.7,195.8 211.4,219.5 213.7,215.1 215.8,222.2 218.5,236.2 221.1,231.8 223.7,236.2 226.4,245.0 229.0,247.7 231.6,247.7 233.4,251.2 236.0,250.3 239.0,253.8 242.2,270.5 244.8,266.1 247.5,272.3 250.1,264.4 254.5,260.0 258.0,255.6 260.1,255.9 262.4,267.0 264.7,272.3 266.5,287.0 268.8,309.2 271.4,305.7 273.7,317.1 277.6,313.6 281.1,308.3 286.0,311.8 290.8,303.9 292.5,283.7 294.8,289.9 297.3,287.2 300.1,288.1 302.5,284.6 305.0,285.0 307.1,282.0 309.2,287.2 312.4,286.4 314.8,295.1 317.1,310.1 318.9,299.5 321.5,302.2 325.9,294.3 329.4,298.7 333.8,308.3 337.6,328.0 340.9,347.5 342.7,367.7 345.5,368.5 347.9,373.8 350.2,351.8 352.5,364.1 354.6,360.6 356.7,362.9 359.0,358.0 362.0,355.9 364.3,365.9 366.9,372.4 370.4,369.4 374.8,367.7 376.6,370.0 379.2,374.7 382.7,367.7 386.2,354.5 389.8,358.0 392.4,365.0 395.4,378.2 398.5,372.9 402.1,370.3 404.7,372.1 407.4,377.5 409.7,371.3 412.0,376.6 415.8,377.8 417.6,381.0 419.7,395.9 422.0,391.2 424.6,389.8 427.2,383.6 429.0,382.7 431.6,387.1 434.3,386.2 436.6,377.5 439.0,374.8 440.8,383.6 443.1,384.5 446.6,384.5 449.2,382.7 451.8,372.2 454.5,367.3 457.1,367.8 459.8,363.4 462.4,363.7 465.4,370.4 468.5,365.1 471.2,363.4 473.9,361.4 476.6,365.0 477.8,373.9 479.0,396.8 482.0,400.3 484.1,403.8 485.8,414.4 487.6,416.1 490.2,412.6 493.7,412.2 496.0,410.8 499.0,414.4 502.5,414.0 506.0,410.5 507.8,411.7 510.4,404.7 513.9,406.5 517.5,405.2 520.1,407.0 522.7,405.9 525.4,402.9 528.0,405.2 531.5,414.4 533.6,411.7 536.4,417.9 539.4,414.4 542.1,413.5 543.8,412.2 547.0,408.5 549.5,410.5 552.3,415.8 555.5,415.8 557.6,418.4 560.7,422.8 563.7,419.3 566.4,397.3 569.9,391.2 573.4,380.6 576.0,376.2 577.3,346.4 580.6,362.6 582.8,364.0 584.8,375.4 588.9,374.5 591.8,381.5 594.1,376.2 597.1,385.0 599.4,385.9 601.5,373.6 604.2,375.4 606.5,371.8 609.0,376.2 610.8,373.6 612.9,379.8 614.7,364.5 617.2,364.5 619.7,360.7 622.3,357.2 625.8,354.6 627.6,339.6 629.7,322.1 632.0,306.2 634.6,307.1 637.2,278.1 639.0,266.8 641.5,265.0 644.3,282.5 646.6,322.1 649.0,322.1 652.2,319.4 655.3,320.3 657.5,308.0 661.0,304.5 663.1,320.3 665.4,334.4 668.0,354.6 670.6,358.1 674.1,366.0 677.7,359.8 682.1,355.4 684.4,369.5 687.0,370.4 689.7,367.3 692.7,369.0 694.9,371.3 697.6,375.3 700.2,373.9 702.8,367.8 706.0,362.0 708.5,363.4 711.3,360.8 713.7,376.6 716.0,383.6 718.7,389.4 721.3,385.9 724.8,387.1 727.8,394.1 730.1,389.8 732.4,381.0 734.8,384.5 737.1,378.3 739.8,387.1 741.9,394.7 744.1,390.6 746.4,388.9 748.5,393.3 750.5,389.0 752.1,387.6 756.2,388.1 758.8,392.0 761.4,402.5 763.7,406.9 766.7,403.4 770.7,397.2 773.7,406.9 776.0,421.0 777.8,436.8 780.2,442.1 782.5,440.3 785.1,443.8 787.8,446.5 791.3,446.5 794.3,445.2 796.6,451.2 799.2,447.3 801.8,448.2 804.5,447.0 807.6,448.7 811.2,445.6 813.6,449.1 815.9,449.4 818.9,447.3 821.2,449.0 823.8,444.7 826.4,445.0 828.0,454.0 830.5,454.5 832.9,458.1 835.2,460.4 838.7,463.3 840.8,463.3 842.5,452.8 844.4,464.5 846.9,464.3 849.9,462.4 852.2,463.3 854.5,465.1 856.9,463.1 859.2,468.6 861.2,473.3 863.3,472.7 866.3,474.4 870.4,472.7 873.3,471.8 876.2,473.3 879.7,475.0 883.2,476.0 887.3,475.0 891.4,474.4 896.1,474.1 900.2,473.6 902.6,475.0 904.3,478.5 906.6,478.0 909.2,477.6 910.7,483.8 912.0,490.3" stroke="#16c784" clip-path="url(#ab)"/>
</g>
<line x1="40.9" x2="913" y1="91.3" y2="91.3" stroke="#aeb2bb" stroke-width="1.6" stroke-dasharray="1.8 5.027"/>
<line x1="40" x2="914" y1="16.2" y2="16.2" stroke="#3b404c" stroke-width="1.4"/>
<line x1="40.2" x2="40.2" y1="16" y2="628" stroke="#242a36" stroke-width="1.4"/>
<line x1="914" x2="914" y1="16" y2="628" stroke="#252a36" stroke-width="1.6"/>
<line x1="40" x2="914" y1="627.6" y2="627.6" stroke="#262b35" stroke-width="1.4"/>
<text transform="translate(923.4 111.20) scale(0.975 1.08)">0.012</text><text transform="translate(923.4 196.55) scale(0.975 1.08)">0.010</text><text transform="translate(923.4 283.55) scale(0.975 1.08)">0.0075</text><text transform="translate(923.4 369.15) scale(0.975 1.08)">0.0050</text><text transform="translate(923.4 456.20) scale(0.975 1.08)">0.0025</text>
<text transform="translate(256.3 661) scale(0.97 1.08)" text-anchor="middle">Jul &#39;24</text><text transform="translate(476.4 661) scale(0.97 1.08)" text-anchor="middle">Oct &#39;24</text><text transform="translate(696.2 661) scale(0.97 1.08)" text-anchor="middle">Jan &#39;25</text><text transform="translate(910.5 661) scale(0.97 1.08)" text-anchor="middle">Apr &#39;25</text>
</svg>
</body></html>
